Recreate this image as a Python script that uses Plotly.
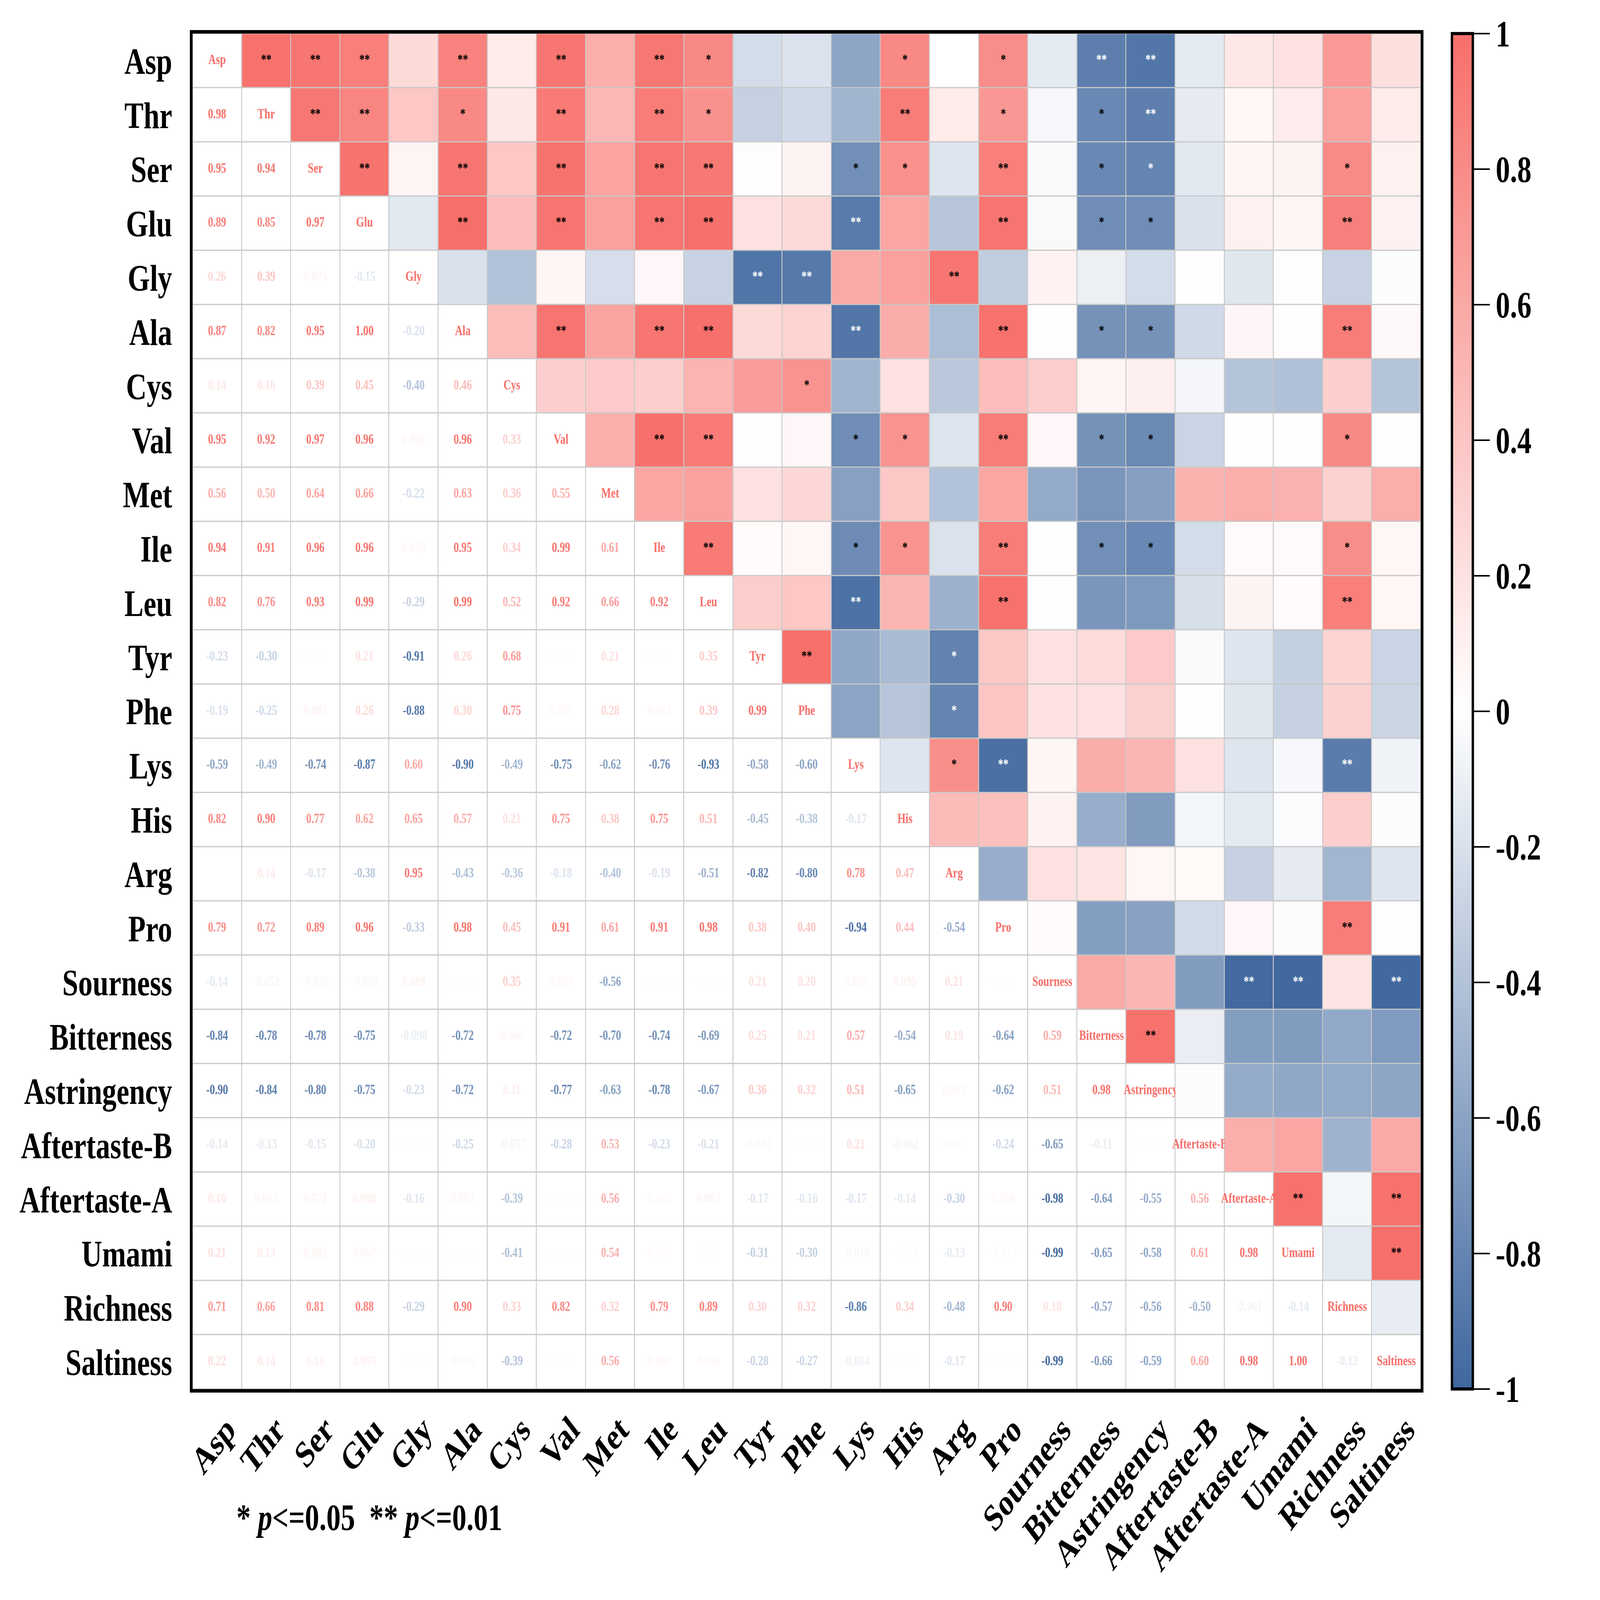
import math
import plotly.graph_objects as go

names = ["Asp", "Thr", "Ser", "Glu", "Gly", "Ala", "Cys", "Val", "Met", "Ile", "Leu",
         "Tyr", "Phe", "Lys", "His", "Arg", "Pro", "Sourness", "Bitterness",
         "Astringency", "Aftertaste-B", "Aftertaste-A", "Umami", "Richness", "Saltiness"]

# lower-triangle correlation values (row i holds columns 0..i-1)
r_Asp = []
r_Thr = [0.98]
r_Ser = [0.95, 0.94]
r_Glu = [0.89, 0.85, 0.97]
r_Gly = [0.26, 0.39, 0.073, -0.15]
r_Ala = [0.87, 0.82, 0.95, 1.00, -0.20]
r_Cys = [0.14, 0.16, 0.39, 0.45, -0.40, 0.46]
r_Val = [0.95, 0.92, 0.97, 0.96, 0.066, 0.96, 0.33]
r_Met = [0.56, 0.50, 0.64, 0.66, -0.22, 0.63, 0.36, 0.55]
r_Ile = [0.94, 0.91, 0.96, 0.96, 0.054, 0.95, 0.34, 0.99, 0.61]
r_Leu = [0.82, 0.76, 0.93, 0.99, -0.29, 0.99, 0.52, 0.92, 0.66, 0.92]
r_Tyr = [-0.23, -0.30, 0.023, 0.21, -0.91, 0.26, 0.68, 0.022, 0.21, 0.026, 0.35]
r_Phe = [-0.19, -0.25, 0.082, 0.26, -0.88, 0.30, 0.75, 0.055, 0.28, 0.062, 0.39, 0.99]
r_Lys = [-0.59, -0.49, -0.74, -0.87, 0.60, -0.90, -0.49, -0.75, -0.62, -0.76, -0.93, -0.58, -0.60]
r_His = [0.82, 0.90, 0.77, 0.62, 0.65, 0.57, 0.21, 0.75, 0.38, 0.75, 0.51, -0.45, -0.38, -0.17]
r_Arg = [-0.00011, 0.14, -0.17, -0.38, 0.95, -0.43, -0.36, -0.18, -0.40, -0.19, -0.51, -0.82,
         -0.80, 0.78, 0.47]
r_Pro = [0.79, 0.72, 0.89, 0.96, -0.33, 0.98, 0.45, 0.91, 0.61, 0.91, 0.98, 0.38, 0.40, -0.94,
         0.44, -0.54]
r_Sourness = [-0.14, -0.052, -0.034, -0.039, 0.089, 0.006, 0.35, 0.054, -0.56, 0.008, -0.015,
              0.21, 0.20, 0.065, 0.095, 0.21, 0.025]
r_Bitterness = [-0.84, -0.78, -0.78, -0.75, -0.098, -0.72, 0.066, -0.72, -0.70, -0.74, -0.69,
                0.25, 0.21, 0.57, -0.54, 0.19, -0.64, 0.59]
r_Astringency = [-0.90, -0.84, -0.80, -0.75, -0.23, -0.72, 0.11, -0.77, -0.63, -0.78, -0.67,
                 0.36, 0.32, 0.51, -0.65, 0.062, -0.62, 0.51, 0.98]
r_AftertasteB = [-0.14, -0.13, -0.15, -0.20, 0.004, -0.25, -0.057, -0.28, 0.53, -0.23, -0.21,
                 -0.034, 0.005, 0.21, -0.062, 0.045, -0.24, -0.65, -0.11, -0.021]
r_AftertasteA = [0.16, 0.062, 0.071, 0.098, -0.16, 0.063, -0.39, -0.0074, 0.56, 0.040, 0.083,
                 -0.17, -0.16, -0.17, -0.14, -0.30, 0.056, -0.98, -0.64, -0.55, 0.56]
r_Umami = [0.21, 0.13, 0.083, 0.067, 0.004, 0.005, -0.41, -0.0078, 0.54, 0.036, 0.026, -0.31,
           -0.30, -0.045, -0.019, -0.13, -0.017, -0.99, -0.65, -0.58, 0.61, 0.98]
r_Richness = [0.71, 0.66, 0.81, 0.88, -0.29, 0.90, 0.33, 0.82, 0.32, 0.79, 0.89, 0.30, 0.32,
              -0.86, 0.34, -0.48, 0.90, 0.18, -0.57, -0.56, -0.50, -0.061, -0.14]
r_Saltiness = [0.22, 0.14, 0.10, 0.095, -0.020, 0.050, -0.39, 0.006, 0.56, 0.062, 0.059, -0.28,
               -0.27, -0.084, -0.018, -0.17, 0.007, -0.99, -0.66, -0.59, 0.60, 0.98, 1.00, -0.12]

lower_rows = [r_Asp, r_Thr, r_Ser, r_Glu, r_Gly, r_Ala, r_Cys, r_Val, r_Met, r_Ile, r_Leu,
              r_Tyr, r_Phe, r_Lys, r_His, r_Arg, r_Pro, r_Sourness, r_Bitterness,
              r_Astringency, r_AftertasteB, r_AftertasteA, r_Umami, r_Richness, r_Saltiness]

# significance marks in the upper triangle: (row, column, mark)
sig_marks = [
    ("Asp", "Thr", "**"), ("Asp", "Ser", "**"), ("Asp", "Glu", "**"), ("Asp", "Ala", "**"),
    ("Asp", "Val", "**"), ("Asp", "Ile", "**"), ("Asp", "Leu", "*"), ("Asp", "His", "*"),
    ("Asp", "Pro", "*"), ("Asp", "Bitterness", "**"), ("Asp", "Astringency", "**"),
    ("Thr", "Ser", "**"), ("Thr", "Glu", "**"), ("Thr", "Ala", "*"), ("Thr", "Val", "**"),
    ("Thr", "Ile", "**"), ("Thr", "Leu", "*"), ("Thr", "His", "**"), ("Thr", "Pro", "*"),
    ("Thr", "Bitterness", "*"), ("Thr", "Astringency", "**"),
    ("Ser", "Glu", "**"), ("Ser", "Ala", "**"), ("Ser", "Val", "**"), ("Ser", "Ile", "**"),
    ("Ser", "Leu", "**"), ("Ser", "Lys", "*"), ("Ser", "His", "*"), ("Ser", "Pro", "**"),
    ("Ser", "Bitterness", "*"), ("Ser", "Astringency", "*"), ("Ser", "Richness", "*"),
    ("Glu", "Ala", "**"), ("Glu", "Val", "**"), ("Glu", "Ile", "**"), ("Glu", "Leu", "**"),
    ("Glu", "Lys", "**"), ("Glu", "Pro", "**"), ("Glu", "Bitterness", "*"),
    ("Glu", "Astringency", "*"), ("Glu", "Richness", "**"),
    ("Gly", "Tyr", "**"), ("Gly", "Phe", "**"), ("Gly", "Arg", "**"),
    ("Ala", "Val", "**"), ("Ala", "Ile", "**"), ("Ala", "Leu", "**"), ("Ala", "Lys", "**"),
    ("Ala", "Pro", "**"), ("Ala", "Bitterness", "*"), ("Ala", "Astringency", "*"),
    ("Ala", "Richness", "**"),
    ("Cys", "Phe", "*"),
    ("Val", "Ile", "**"), ("Val", "Leu", "**"), ("Val", "Lys", "*"), ("Val", "His", "*"),
    ("Val", "Pro", "**"), ("Val", "Bitterness", "*"), ("Val", "Astringency", "*"),
    ("Val", "Richness", "*"),
    ("Ile", "Leu", "**"), ("Ile", "Lys", "*"), ("Ile", "His", "*"), ("Ile", "Pro", "**"),
    ("Ile", "Bitterness", "*"), ("Ile", "Astringency", "*"), ("Ile", "Richness", "*"),
    ("Leu", "Lys", "**"), ("Leu", "Pro", "**"), ("Leu", "Richness", "**"),
    ("Tyr", "Phe", "**"), ("Tyr", "Arg", "*"),
    ("Phe", "Arg", "*"),
    ("Lys", "Arg", "*"), ("Lys", "Pro", "**"), ("Lys", "Richness", "**"),
    ("Pro", "Richness", "**"),
    ("Sourness", "Aftertaste-A", "**"), ("Sourness", "Umami", "**"),
    ("Sourness", "Saltiness", "**"),
    ("Bitterness", "Astringency", "**"),
    ("Aftertaste-A", "Umami", "**"), ("Aftertaste-A", "Saltiness", "**"),
    ("Umami", "Saltiness", "**"),
]

RED = (247, 111, 106)
BLUE = (63, 103, 158)
FONT = "Liberation Serif"
W, H = 5360, 4102

n = len(names)
R = [[1.0] * n for _ in range(n)]
for i, row in enumerate(lower_rows):
    for j, v in enumerate(row):
        R[i][j] = v
        R[j][i] = v


def color_of(v):
    t = max(-1.0, min(1.0, v))
    end = RED if t >= 0 else BLUE
    a = abs(t)
    c = [round(255 + a * (e - 255)) for e in end]
    return "rgb(%d,%d,%d)" % tuple(c)


def fmt(v):
    a = abs(v)
    if a >= 0.1 or a == 0:
        return "%.2f" % v
    if a >= 0.001:
        dec = 1 - math.floor(math.log10(a))
        return ("%." + str(dec) + "f") % v
    m, e = ("%.1E" % v).split("E")
    return "%sE%d" % (m, int(e))


idx = list(range(n))
z_up = [[R[i][j] if j > i else None for j in range(n)] for i in range(n)]
z_low = [[0 if j <= i else None for j in range(n)] for i in range(n)]

fig = go.Figure()
# base layer: white lower triangle + numbers + diagonal names
fig.add_trace(go.Heatmap(z=z_low, x=idx, y=idx, colorscale=[[0, "white"], [1, "white"]],
                         showscale=False, xgap=3, ygap=3, hoverinfo="skip"))

lx, ly, lt, lc = [], [], [], []
for i in range(n):
    for j in range(i):
        lx.append(j)
        ly.append(i)
        lt.append(fmt(R[i][j]))
        lc.append(color_of(R[i][j]))
fig.add_trace(go.Scatter(x=lx, y=ly, mode="text", text=lt, hoverinfo="skip",
                         textfont=dict(family=FONT, size=35, color=lc, weight="bold"),
                         showlegend=False))
fig.add_trace(go.Scatter(x=idx, y=idx, mode="text", text=names, hoverinfo="skip",
                         textfont=dict(family=FONT, size=35, color=color_of(1.0), weight="bold"),
                         showlegend=False))

# overlay layer: coloured upper triangle + significance marks
fig.add_trace(go.Heatmap(
    z=z_up, x=idx, y=idx, zmin=-1, zmax=1, xaxis="x2", yaxis="y2",
    colorscale=[[0, "rgb(%d,%d,%d)" % BLUE], [0.5, "white"], [1, "rgb(%d,%d,%d)" % RED]],
    xgap=3, ygap=3, hoverinfo="skip",
    colorbar=dict(
        x=1.0253, xanchor="left", xref="paper", y=0.5, yanchor="middle",
        len=1.0, lenmode="fraction", thickness=70, xpad=0, ypad=0,
        outlinewidth=8, outlinecolor="black",
        tickvals=[-1, -0.8, -0.6, -0.4, -0.2, 0, 0.2, 0.4, 0.6, 0.8, 1],
        ticktext=["-1", "-0.8", "-0.6", "-0.4", "-0.2", "0", "0.2", "0.4", "0.6", "0.8", "1"],
        ticks="outside", ticklen=54, tickwidth=4, tickcolor="black",
        tickfont=dict(family=FONT, size=96, color="black", weight="bold"),
    ),
))

sx, sy, st, sc = [], [], [], []
for rn, cn, mk in sig_marks:
    i, j = names.index(rn), names.index(cn)
    sx.append(j)
    sy.append(i)
    st.append(mk)
    sc.append("white" if R[i][j] <= -0.795 else "black")
fig.add_trace(go.Scatter(x=sx, y=sy, mode="text", text=st, hoverinfo="skip",
                         xaxis="x2", yaxis="y2",
                         textfont=dict(family=FONT, size=35, color=sc, weight="bold"),
                         showlegend=False))

axis_common = dict(
    tickvals=idx, ticktext=names, showgrid=False, zeroline=False, ticks="",
    showline=True, mirror=True, linewidth=9, linecolor="black",
    tickfont=dict(family=FONT, size=96, color="black", weight="bold"),
)
fig.update_layout(
    xaxis=dict(range=[-0.5, n - 0.5], tickangle=-45, ticklabelstandoff=0,
               ticklabelshift=33, **axis_common),
    yaxis=dict(range=[n - 0.5, -0.5], ticklabelstandoff=40, **axis_common),
    xaxis2=dict(range=[-0.5, n - 0.5], overlaying="x", visible=False),
    yaxis2=dict(range=[n - 0.5, -0.5], overlaying="y", visible=False),
)

fig.add_annotation(
    xref="paper", yref="paper", x=0.0352, y=-0.0947, xanchor="left", yanchor="middle",
    showarrow=False,
    text="*&nbsp;<i>p</i>&lt;=0.05&nbsp;&nbsp;**&nbsp;<i>p</i>&lt;=0.01",
    font=dict(family=FONT, size=96, color="black", weight="bold"),
)

fig.update_layout(
    width=W, height=H, autosize=False,
    margin=dict(l=645, r=600, t=86, b=541),
    paper_bgcolor="white", plot_bgcolor="#c8c8c8",
    showlegend=False,
)

# The figure is laid out at 5360x4102; if the browser viewport is a different size,
# scale the page so the whole figure fills the viewport.
fig.write_html(
    "out.html",
    config={"displayModeBar": False},
    post_script=(
        "var gd=document.getElementById('{plot_id}');"
        "document.body.style.margin='0';document.body.style.overflow='hidden';"
        "var sx=window.innerWidth/%d, sy=window.innerHeight/%d;"
        "gd.style.transformOrigin='0 0';"
        "gd.style.transform='scale('+sx+','+sy+')';" % (W, H)
    ),
)
